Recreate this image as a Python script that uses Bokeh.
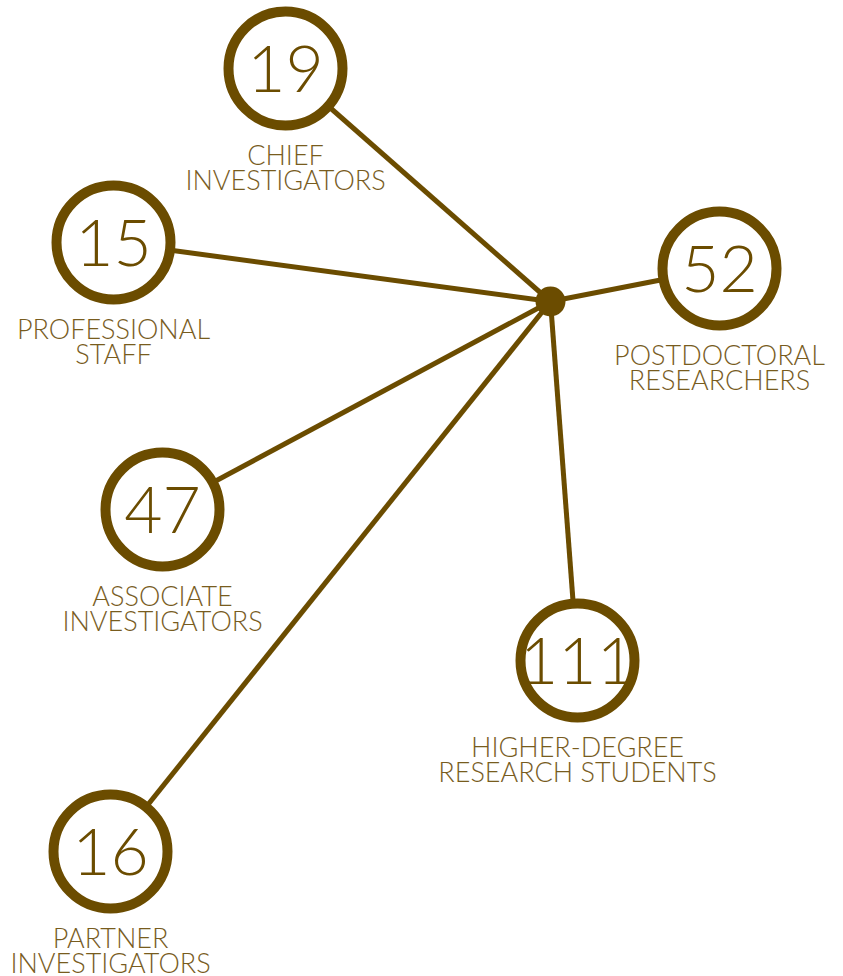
from bokeh.plotting import figure
from bokeh.models import Range1d, ColumnDataSource
from bokeh.core.properties import value
from bokeh.embed import file_html
from bokeh.resources import INLINE

# Data
counts = [19, 15, 52, 47, 111, 16]
labels_line1 = ["CHIEF", "PROFESSIONAL", "POSTDOCTORAL", "ASSOCIATE", "HIGHER-DEGREE", "PARTNER"]
labels_line2 = ["INVESTIGATORS", "STAFF", "RESEARCHERS", "INVESTIGATORS", "RESEARCH STUDENTS", "INVESTIGATORS"]

# Layout (node positions in page pixels)
node_x = [285, 113, 719, 162, 577, 110]
node_y = [68, 242, 268, 509, 660, 851]
hub_x, hub_y = 550, 301

COLOR = "#6b4c00"
LABEL_COLOR = "#785c1e"
NUM_FONT = "Lato Light"
LABEL_FONT = "Lato Light"

W, H = 843, 976
p = figure(width=W, height=H, output_backend="svg", toolbar_location=None,
           x_range=Range1d(0, W), y_range=Range1d(H, 0),
           min_border=0, outline_line_color=None)
p.axis.visible = False
p.grid.visible = False
p.background_fill_color = "white"
p.border_fill_color = "white"

# spokes
p.segment(x0=[hub_x] * len(node_x), y0=[hub_y] * len(node_y), x1=node_x, y1=node_y,
          line_color=COLOR, line_width=5)
# hub
p.circle(x=[hub_x], y=[hub_y], radius=15, fill_color=COLOR, line_color=None)

src = ColumnDataSource(dict(
    x=node_x, y=node_y,
    num=[str(c) for c in counts],
    l1=labels_line1, l2=labels_line2,
    y1=[y + 86 for y in node_y], y2=[y + 111 for y in node_y],
))

p.circle(x="x", y="y", radius=57, source=src, fill_color="white",
         line_color=COLOR, line_width=10)
p.text(x="x", y="y", text="num", source=src, text_align="center",
       text_baseline="middle", text_font=value(NUM_FONT), text_font_size="66px",
       text_color=COLOR)
p.text(x="x", y="y1", text="l1", source=src, text_align="center",
       text_baseline="middle", text_font=value(LABEL_FONT), text_font_size="27px",
       text_color=LABEL_COLOR)
p.text(x="x", y="y2", text="l2", source=src, text_align="center",
       text_baseline="middle", text_font=value(LABEL_FONT), text_font_size="27px",
       text_color=LABEL_COLOR)

open("out.html", "w").write(file_html(p, INLINE))
